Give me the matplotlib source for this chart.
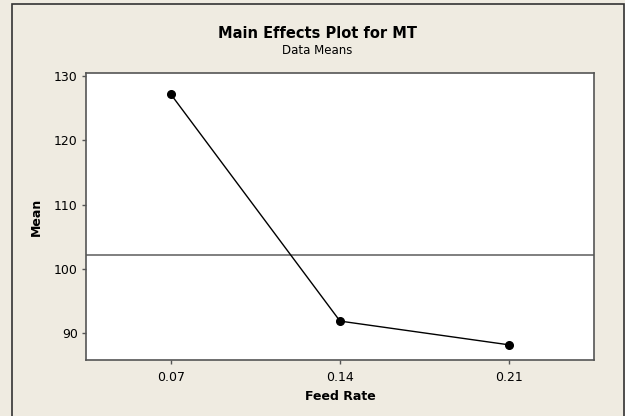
import matplotlib
matplotlib.use("Agg")
import matplotlib.pyplot as plt
from matplotlib.patches import Rectangle

feed_rate = [0.07, 0.14, 0.21]
mean_mt = [127.2, 91.9, 88.2]
xtick_labels = ["0.07", "0.14", "0.21"]
yticks = [90, 100, 110, 120, 130]
grand_mean = 102.2

plt.rcParams['font.family'] = ['DejaVu Sans']
W, H = 625, 416
fig = plt.figure(figsize=(W / 100, H / 100), dpi=100)
bg = '#EFEBE1'
fig.patch.set_facecolor(bg)

# outer frame border
fig.patches.append(Rectangle((11.5 / W, -0.05), (623.5 - 11.5) / W, 1.05 - 4 / H,
                             transform=fig.transFigure, fill=False,
                             edgecolor='#333333', linewidth=1.2))

ax = fig.add_axes([86 / W, 1 - 360 / H, (594 - 86) / W, (360 - 73.3) / H])
ax.set_facecolor('white')
ax.axhline(grand_mean, color='#7f7f7f', linewidth=1.4, zorder=1)
ax.plot(feed_rate, mean_mt, color='black', linewidth=1.0, marker='o',
        markersize=5.5, zorder=3)

ax.set_xlim(0.035, 0.245)
ax.set_ylim(85.85, 130.42)
ax.set_xticks(feed_rate)
ax.set_xticklabels(xtick_labels)
ax.set_yticks(yticks)
ax.tick_params(direction='out', length=3, width=1, color='#555555',
               labelsize=9, pad=3)
ax.tick_params(axis='x', pad=5)
for s in ax.spines.values():
    s.set_color('#555555')
    s.set_linewidth(1.2)

ax.set_xlabel('Feed Rate', fontsize=9, fontweight='bold', labelpad=4)
ax.set_ylabel('Mean', fontsize=9, fontweight='bold', labelpad=8)

cx = 317.5 / W
fig.text(cx, 1 - 33 / H, 'Main Effects Plot for MT',
         ha='center', va='center', fontsize=10.5, fontweight='bold')
fig.text(cx, 1 - 50 / H, 'Data Means',
         ha='center', va='center', fontsize=8.5)

fig.savefig('out.png', dpi=100, facecolor=bg)
